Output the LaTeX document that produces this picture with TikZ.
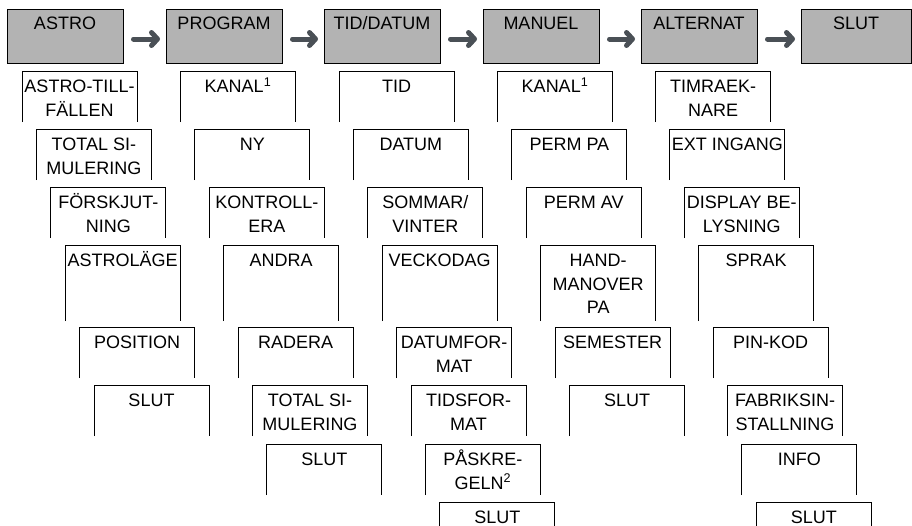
\documentclass[tikz,border=0pt]{standalone}
\usepackage{fontspec}
\setmainfont{Liberation Sans}
\usetikzlibrary{arrows.meta}
\definecolor{topfill}{HTML}{B3B3B3}
\definecolor{arrowc}{HTML}{4A5056}
\newcommand\ctxt[2]{\parbox[t][#1pt][t]{115pt}{\centering\rule{0pt}{21.5pt}#2}}
\newcommand\ttxt[2]{\parbox[t][54pt][t]{#1pt}{\centering\rule{0pt}{20pt}#2}}
\tikzset{
  topbox/.style={draw=black, line width=0.9pt, fill=topfill, inner sep=0pt, outer sep=0pt, anchor=north west, font=\fontsize{18}{23.5}\selectfont},
  sub/.style={inner sep=0pt, outer sep=0pt, anchor=north west, font=\fontsize{18}{23.5}\selectfont},
  frame/.style={draw=black, line width=0.9pt},
  flow/.style={draw=arrowc, line width=5pt, line cap=round, shorten <=10.5pt, shorten >=6pt, -{Straight Barb[round,length=6pt,width=13pt]}}
}
\begin{document}
\begin{tikzpicture}[x=1pt,y=-1pt]
\useasboundingbox (0,0) rectangle (912,525);
% top row
\node[topbox] (T0) at (7,9)   {\ttxt{116}{ASTRO}};
\node[topbox] (T1) at (166,9) {\ttxt{116}{PROGRAM}};
\node[topbox] (T2) at (324,9) {\ttxt{116}{TID/DATUM}};
\node[topbox] (T3) at (483,9) {\ttxt{116}{MANUEL}};
\node[topbox] (T4) at (641,9) {\ttxt{116}{ALTERNAT}};
\node[topbox] (T5) at (801,9) {\ttxt{110}{SLUT}};
\foreach \a/\b in {T0/T1,T1/T2,T2/T3,T3/T4,T4/T5}
  \draw[flow] ([yshift=-3pt]\a.east) -- ([yshift=-3pt]\b.west);
% column ASTRO
\node[sub] (a0) at (22,71)  {\ctxt{51}{ASTRO-TILL-\\FÄLLEN}};
\node[sub] (a1) at (36.4,129) {\ctxt{51}{TOTAL SI-\\MULERING}};
\node[sub] (a2) at (50.8,187) {\ctxt{51}{FÖRSKJUT-\\NING}};
\node[sub] (a3) at (65.2,245) {\ctxt{76}{ASTROLÄGE}};
\node[sub] (a4) at (79.6,327) {\ctxt{51}{POSITION}};
\node[sub] (a5) at (94,385)   {\ctxt{51}{SLUT}};
% column PROGRAM
\node[sub] (b0) at (180.5,71)  {\ctxt{51}{KANAL\textsuperscript{1}}};
\node[sub] (b1) at (194.9,129) {\ctxt{51}{NY}};
\node[sub] (b2) at (209.3,187) {\ctxt{51}{KONTROLL-\\ERA}};
\node[sub] (b3) at (223.7,245) {\ctxt{76}{ANDRA}};
\node[sub] (b4) at (238.1,327) {\ctxt{51}{RADERA}};
\node[sub] (b5) at (252.5,385) {\ctxt{51}{TOTAL SI-\\MULERING}};
\node[sub] (b6) at (266.9,444) {\ctxt{51}{SLUT}};
% column TID/DATUM
\node[sub] (c0) at (339,71)    {\ctxt{51}{TID}};
\node[sub] (c1) at (353.4,129) {\ctxt{51}{DATUM}};
\node[sub] (c2) at (367.8,187) {\ctxt{51}{SOMMAR/\\VINTER}};
\node[sub] (c3) at (382.2,245) {\ctxt{76}{VECKODAG}};
\node[sub] (c4) at (396.6,327) {\ctxt{51}{DATUMFOR-\\MAT}};
\node[sub] (c5) at (411,385)   {\ctxt{51}{TIDSFOR-\\MAT}};
\node[sub] (c6) at (425.4,444) {\ctxt{51}{PÅSKRE-\\GELN\textsuperscript{2}}};
\node[sub] (c7) at (439.8,502) {\ctxt{25}{SLUT}};
% column MANUEL
\node[sub] (d0) at (497.5,71)  {\ctxt{51}{KANAL\textsuperscript{1}}};
\node[sub] (d1) at (511.9,129) {\ctxt{51}{PERM PA}};
\node[sub] (d2) at (526.3,187) {\ctxt{51}{PERM AV}};
\node[sub] (d3) at (540.7,245) {\ctxt{76}{HAND-\\MANOVER\\PA}};
\node[sub] (d4) at (555.1,327) {\ctxt{51}{SEMESTER}};
\node[sub] (d5) at (569.5,385) {\ctxt{51}{SLUT}};
% column ALTERNAT
\node[sub] (e0) at (655.5,71)  {\ctxt{51}{TIMRAEK-\\NARE}};
\node[sub] (e1) at (669.9,129) {\ctxt{51}{EXT INGANG}};
\node[sub] (e2) at (684.3,187) {\ctxt{51}{DISPLAY BE-\\LYSNING}};
\node[sub] (e3) at (698.7,245) {\ctxt{76}{SPRAK}};
\node[sub] (e4) at (713.1,327) {\ctxt{51}{PIN-KOD}};
\node[sub] (e5) at (727.5,385) {\ctxt{51}{FABRIKSIN-\\STALLNING}};
\node[sub] (e6) at (741.9,444) {\ctxt{51}{INFO}};
\node[sub] (e7) at (756.3,502) {\ctxt{25}{SLUT}};
\foreach \n in {a0,a1,a2,a3,a4,a5,b0,b1,b2,b3,b4,b5,b6,c0,c1,c2,c3,c4,c5,c6,c7,d0,d1,d2,d3,d4,d5,e0,e1,e2,e3,e4,e5,e6,e7}
  \draw[frame] (\n.south west) |- (\n.north east) -- (\n.south east);
\end{tikzpicture}
\end{document}
